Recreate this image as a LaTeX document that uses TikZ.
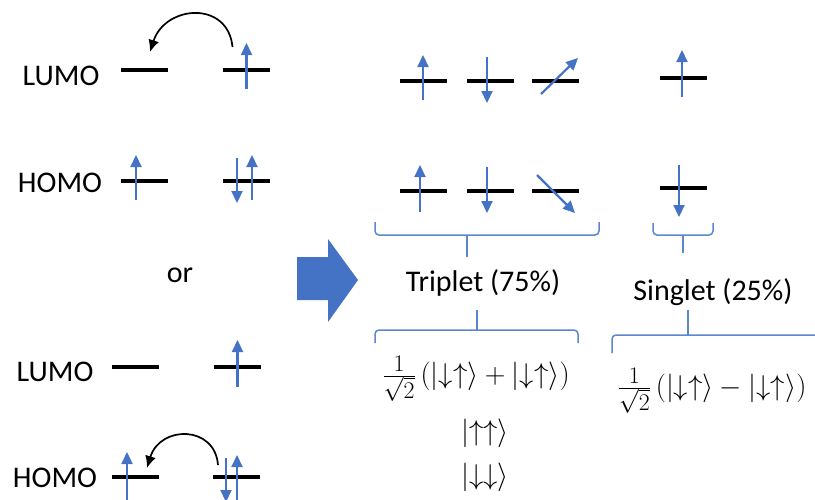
\documentclass[tikz,border=0pt]{standalone}
\usepackage{fontspec}
\setmainfont{Carlito}
\usepackage{tikz}
\usetikzlibrary{arrows.meta,positioning,calc}
\definecolor{spinblue}{HTML}{4472C4}
\definecolor{braceblue}{HTML}{5B87CC}

\begin{document}
\begin{tikzpicture}[
  x=1pt,y=-1pt,
  lbl/.style={font=\fontsize{30}{36}\selectfont,inner sep=0pt},
  ket/.style={font=\fontsize{24.88}{30}\selectfont,inner sep=0pt,scale=1.15,transform shape},
  level/.style={fill=black,minimum width=47pt,minimum height=3.2pt,inner sep=0pt,outer sep=0pt},
  spin/.style={-{Triangle[length=12pt,width=11pt]},line width=2.2pt,draw=spinblue},
  hop/.style={-{Latex[length=12pt,width=11pt]},line width=1.7pt},
  brace/.style={draw=braceblue,line width=1.5pt,rounded corners=4pt},
]
\useasboundingbox (0,0) rectangle (815,499);

% left: the two ways of exciting
\node[lbl] (lumoA) at (61,76) {LUMO};
\node[lbl] (homoA) at (60,183) {HOMO};
\node[lbl] (orword) at (180,275) {or};
\node[lbl] (lumoB) at (55,372) {LUMO};
\node[lbl] (homoB) at (55,478) {HOMO};

\node[level] (luA1) at (144,70) {};
\node[level] (luA2) at (246.5,70) {};
\node[level] (hoA1) at (144,181) {};
\node[level] (hoA2) at (246.5,181) {};
\node[level] (luB1) at (135,367) {};
\node[level] (luB2) at (237.5,367) {};
\node[level] (hoB1) at (135,477) {};
\node[level] (hoB2) at (236.5,477) {};

\draw[spin] ([shift={(0,19)}]luA2.center) -- ([shift={(0,-27)}]luA2.center);
\draw[spin] ([shift={(-8,19)}]hoA1.center) -- ([shift={(-8,-26)}]hoA1.center);
\draw[spin] ([shift={(-9.5,-23)}]hoA2.center) -- ([shift={(-9.5,22)}]hoA2.center);
\draw[spin] ([shift={(5.5,19)}]hoA2.center) -- ([shift={(5.5,-26)}]hoA2.center);

\draw[spin] ([shift={(0,20)}]luB2.center) -- ([shift={(0,-27)}]luB2.center);
\draw[spin] ([shift={(-8,23)}]hoB1.center) -- ([shift={(-8,-25)}]hoB1.center);
\draw[spin] ([shift={(-10.5,-19)}]hoB2.center) -- ([shift={(-10.5,25)}]hoB2.center);
\draw[spin] ([shift={(0.5,25)}]hoB2.center) -- ([shift={(0.5,-22)}]hoB2.center);

\coordinate (hopA) at ([shift={(-14,-23)}]luA2.center);
\coordinate (hopAend) at ([shift={(6,-18)}]luA1.center);
\coordinate (hopB) at ([shift={(-18.5,-12)}]hoB2.center);
\coordinate (hopBend) at ([shift={(12,-9)}]hoB1.center);
\draw[hop] (hopA) .. controls (228,0) and (165,5) .. (hopAend);
\draw[hop] (hopB) .. controls (215,425) and (160,425) .. (hopBend);

% block arrow
\fill[spinblue] (297,257) -- (328,257) -- (328,239) -- (358,280) -- (328,322) -- (328,300) -- (297,300) -- cycle;

% right: the four spin states
\node[level] (tr1) at (423,81) {};
\node[level] (tr2) at (490.5,81) {};
\node[level] (tr3) at (555.5,81) {};
\node[level] (br1) at (423,191) {};
\node[level] (br2) at (490.5,191) {};
\node[level] (br3) at (555.5,191) {};
\node[level] (sg1) at (683,78) {};
\node[level] (sg2) at (683,188) {};

\draw[spin] ([shift={(0,19)}]tr1.center) -- ([shift={(0,-26)}]tr1.center);
\draw[spin] ([shift={(-3.5,-24)}]tr2.center) -- ([shift={(-3.5,22)}]tr2.center);
\draw[spin] ([shift={(-14.5,13)}]tr3.center) -- ([shift={(22.5,-23)}]tr3.center);
\draw[spin] ([shift={(-3,21)}]br1.center) -- ([shift={(-3,-26)}]br1.center);
\draw[spin] ([shift={(-3.5,-24)}]br2.center) -- ([shift={(-3.5,22)}]br2.center);
\draw[spin] ([shift={(-18.5,-16)}]br3.center) -- ([shift={(19.5,22)}]br3.center);
\draw[spin] ([shift={(-1,19)}]sg1.center) -- ([shift={(-1,-28)}]sg1.center);
\draw[spin] ([shift={(-4,-23)}]sg2.center) -- ([shift={(-4,29)}]sg2.center);

% braces
\draw[brace] (375,222) |- (599,235) -- (599,222);
\draw[brace] (467,235) -- (467,257);
\draw[brace] (653,223) |- (713,235) -- (713,223);
\draw[brace] (683,235) -- (683,253);

\node[lbl] (triplet) at (483,283) {Triplet (75\%)};
\node[lbl] (singlet) at (713,292) {Singlet (25\%)};

\draw[brace] (375,343) |- (578,330) -- (578,343);
\draw[brace] (477,310) -- (477,330);
\draw[brace] (612,353) |- (830,335);
\draw[brace] (688,310) -- (688,335);

\node[ket] (tripA) at (476,379) {$\frac{1}{\sqrt{2}}\,(|{\downarrow}{\uparrow}\rangle+|{\downarrow}{\uparrow}\rangle)$};
\node[ket] (tripB) at (485,433) {$|{\uparrow}{\uparrow}\rangle$};
\node[ket] (tripC) at (485,477) {$|{\downarrow}{\downarrow}\rangle$};
\node[ket] (singA) at (712,391) {$\frac{1}{\sqrt{2}}\,(|{\downarrow}{\uparrow}\rangle-|{\downarrow}{\uparrow}\rangle)$};
\end{tikzpicture}
\end{document}
